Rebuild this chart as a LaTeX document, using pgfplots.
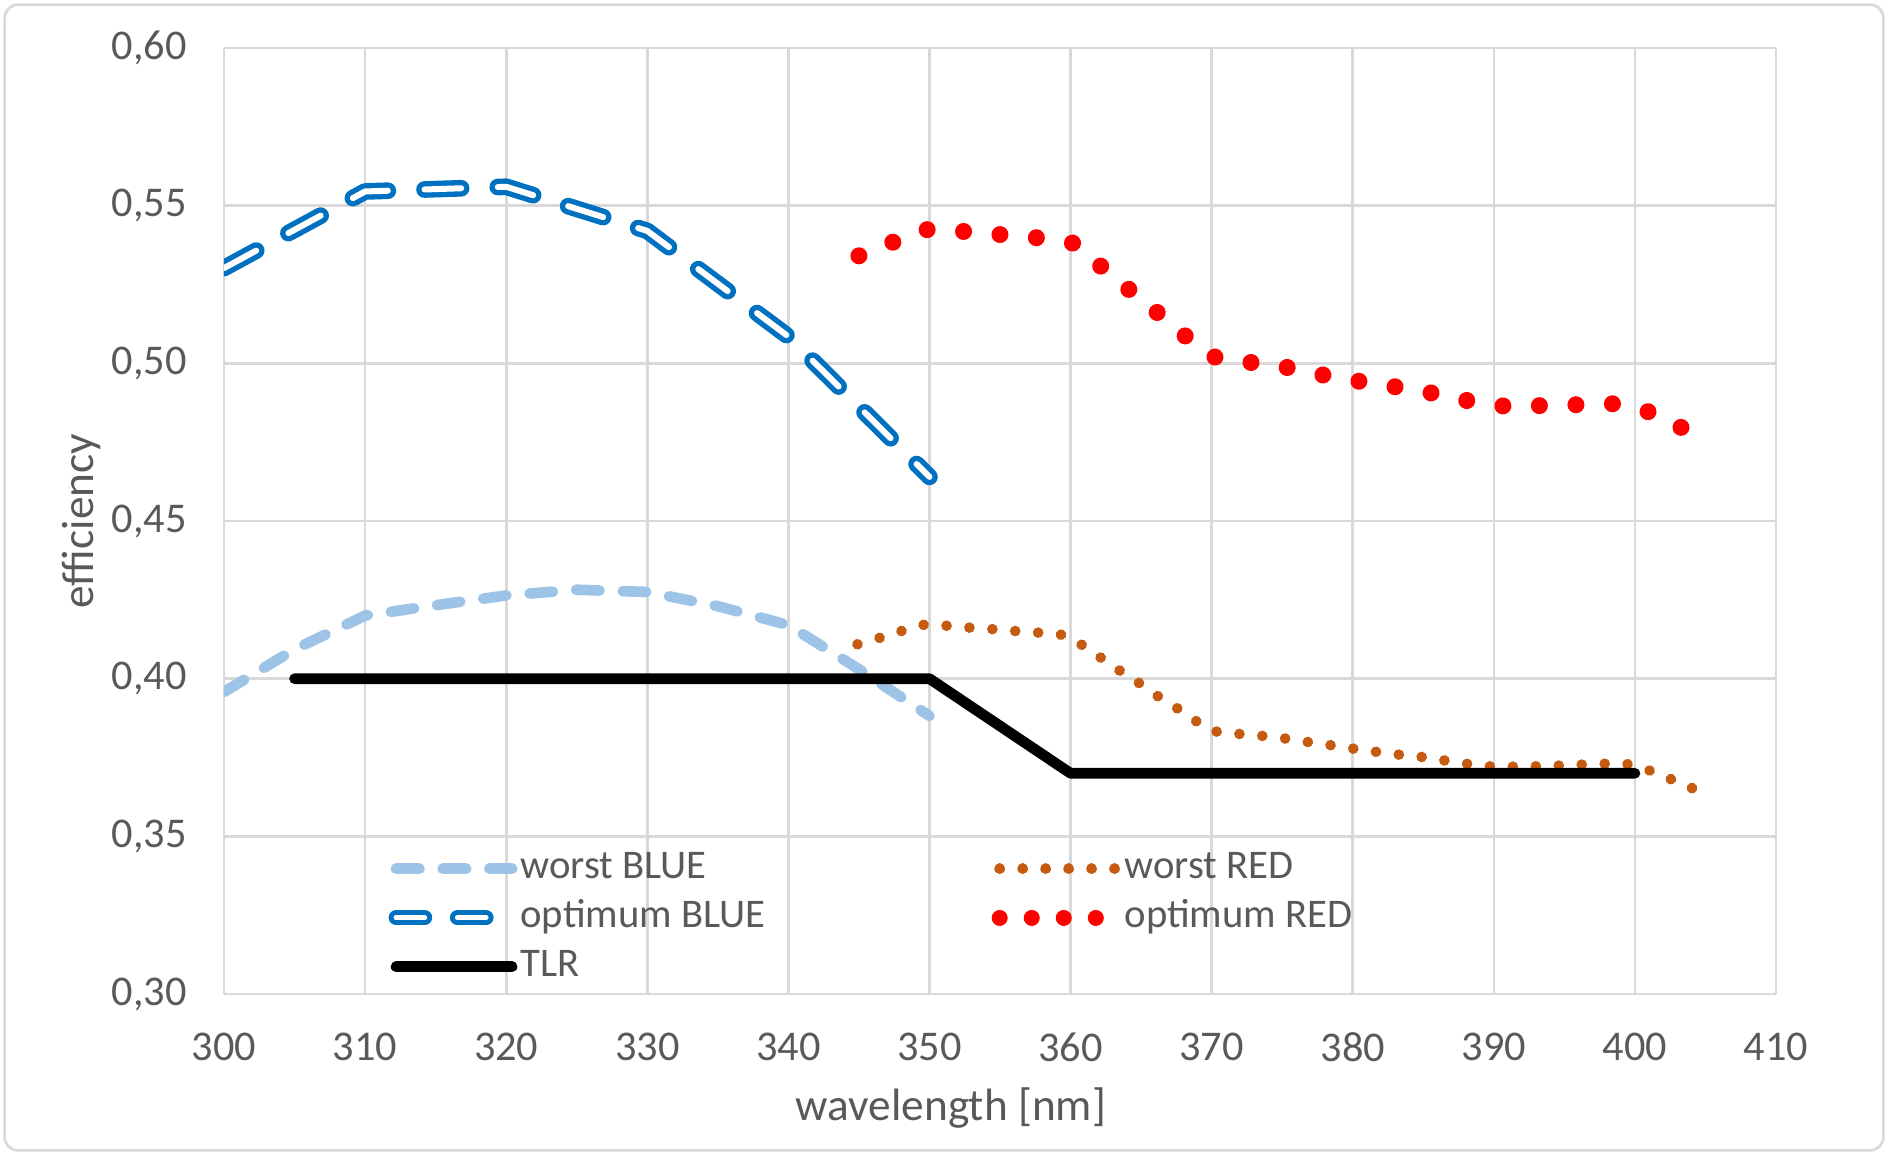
\documentclass[border=0pt]{standalone}
\usepackage{fontspec}
\setmainfont{Carlito}
\usepackage{pgfplots}
\pgfplotsset{compat=1.18}
\definecolor{wblue}{HTML}{9DC3E6}
\definecolor{oblue}{HTML}{0070C0}
\definecolor{wred}{HTML}{C55A11}
\definecolor{ored}{HTML}{FF0000}
\definecolor{gridc}{HTML}{D9D9D9}
\definecolor{txt}{HTML}{595959}
\begin{document}
\begin{tikzpicture}
\path[use as bounding box] (-67.2pt,-48.3pt) rectangle (499.2pt,298.2pt);
\draw[gridc, line width=0.8pt, rounded corners=4pt] (-65.8pt,-46.9pt) rectangle (497.8pt,296.8pt);
\begin{axis}[
  at={(0,0)}, anchor=south west,
  scale only axis, width=465.6pt, height=283.8pt,
  xmin=300, xmax=410, ymin=0.30, ymax=0.60,
  xtick={300,310,320,330,340,350,360,370,380,390,400,410},
  ytick={0.30,0.35,0.40,0.45,0.50,0.55,0.60},
  grid=major,
  grid style={gridc, line width=0.8pt},
  axis line style={draw=none},
  major tick length=0pt,
  tick style={draw=none},
  /pgf/number format/assume math mode=true,
  ticklabel style={font=\fontsize{12.7}{15}\selectfont, text=txt},
  yticklabel style={anchor=east, inner sep=0pt, xshift=-11pt,
    /pgf/number format/fixed, /pgf/number format/fixed zerofill,
    /pgf/number format/precision=2, /pgf/number format/use comma},
  xticklabel style={anchor=north, inner sep=0pt, yshift=-11.4pt,
    /pgf/number format/1000 sep={}},
  xlabel={wavelength [nm]},
  ylabel={efficiency},
  xlabel style={at={(axis description cs:0.4684,-0.1332)}, anchor=base,
    inner sep=0pt, font=\fontsize{13.6}{16}\selectfont, text=txt},
  ylabel style={at={(axis description cs:-0.0844,0.5)}, anchor=base,
    inner sep=0pt, font=\fontsize{13.6}{16}\selectfont, text=txt},
  legend columns=2,
  legend cell align=left,
  legend image code/.code={\draw[#1] (0pt,0pt) -- (34.8pt,0pt);},
  legend style={at={(axis description cs:0.1056,0.1543)}, anchor=north west,
    draw=none, fill=none, inner sep=0pt, row sep=2.7pt,
    font=\fontsize{12.2}{14}\selectfont,
    nodes={inner sep=0pt, text=txt, text height=9pt, text depth=3pt},
    /tikz/every odd column/.append style={column sep=0.3pt},
    /tikz/every even column/.append style={column sep=67.8pt}},
]
% worst BLUE
\addplot[wblue, line width=3.2pt, line cap=round, dash pattern=on 7pt off 7pt] coordinates {
(300,0.3958)(305,0.4093)(310,0.4200)(315,0.4233)(320,0.4264)(325,0.4282)
(330,0.4275)(335,0.4230)(340,0.4170)(345,0.4030)(350,0.3882)};
\addlegendentry{worst BLUE}
% worst RED
\addplot[wred, line width=3.2pt, line cap=round, dash pattern=on 0.01pt off 6.88pt] coordinates {
(344.9,0.4109)(346.5,0.4130)(348.0,0.4151)(349.6,0.4171)(351.2,0.4168)(352.8,0.4162)
(354.5,0.4157)(356.1,0.4151)(357.7,0.4146)(359.3,0.4140)(360.7,0.4110)(362.1,0.4068)
(363.4,0.4028)(364.8,0.3988)(366.1,0.3947)(367.5,0.3908)(368.8,0.3868)(370.2,0.3833)
(371.9,0.3825)(373.5,0.3819)(375.1,0.3811)(376.7,0.3800)(378.3,0.3790)(379.9,0.3779)
(381.5,0.3769)(383.1,0.3760)(384.7,0.3753)(386.3,0.3742)(387.9,0.3731)(389.6,0.3722)
(391.2,0.3721)(392.8,0.3722)(394.4,0.3724)(396.0,0.3727)(397.6,0.3730)(399.2,0.3732)
(400.8,0.3713)(402.3,0.3686)(404.2,0.3650)};
\addlegendentry{worst RED}
% optimum BLUE
\addplot[oblue, line width=1.6pt, double=white, double distance=1.8pt, line cap=round,
  line join=round, dash pattern=on 11pt off 11pt,
  legend image post style={line width=1.5pt, double distance=1.5pt, dash pattern=on 8.6pt off 9.8pt}] coordinates {
(300,0.5302)(310,0.5545)(320,0.5560)(330,0.5420)(340,0.5085)(350,0.4640)};
\addlegendentry{optimum BLUE}
% optimum RED
\addplot[ored, line width=5.1pt, line cap=round, dash pattern=on 0.01pt off 10.95pt,
  legend image post style={line width=4.8pt, dash pattern=on 0.01pt off 9.6pt}] coordinates {
(345.0,0.5341)(347.4,0.5384)(349.9,0.5425)(352.5,0.5418)(355.1,0.5408)(357.7,0.5398)
(360.2,0.5381)(362.2,0.5306)(364.2,0.5232)(366.2,0.5159)(368.2,0.5084)(370.3,0.5018)
(372.9,0.5002)(375.5,0.4986)(378.0,0.4962)(380.6,0.4942)(383.1,0.4925)(385.7,0.4905)
(388.2,0.4881)(390.8,0.4864)(393.4,0.4866)(396.0,0.4869)(398.6,0.4872)(401.0,0.4846)
(403.4,0.4794)};
\addlegendentry{optimum RED}
% TLR
\addplot[black, line width=3.2pt, line cap=round, line join=round] coordinates {
(305,0.40)(350,0.40)(360,0.37)(400,0.37)};
\addlegendentry{TLR}
\end{axis}
\end{tikzpicture}
\end{document}
